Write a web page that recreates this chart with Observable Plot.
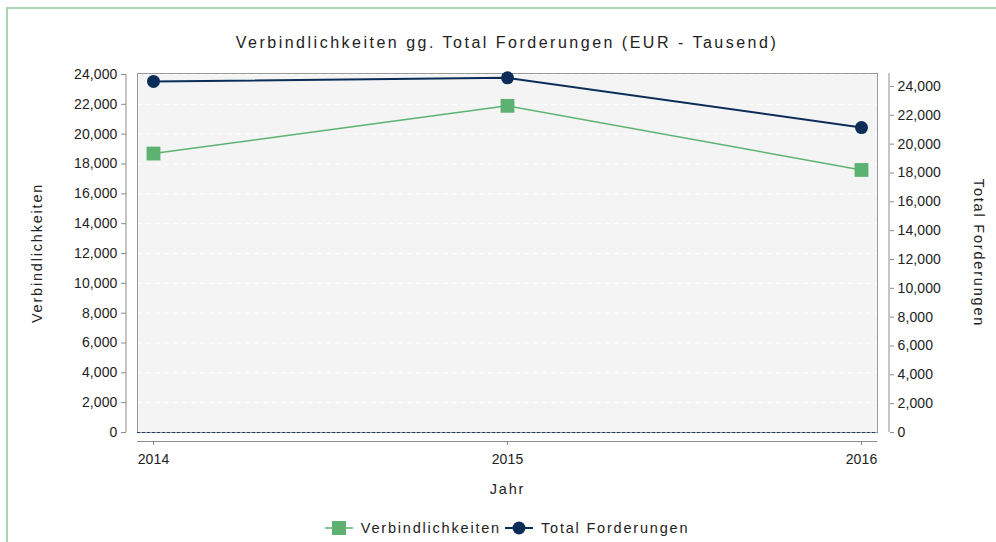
<!DOCTYPE html>
<html>
<head>
<meta charset="utf-8">
<script src="https://cdn.jsdelivr.net/npm/d3@7"></script>
<script src="https://cdn.jsdelivr.net/npm/@observablehq/plot@0.6"></script>
<style>
html, body { margin: 0; padding: 0; background: #fff; }
#page { position: relative; width: 996px; height: 542px; overflow: hidden; font-family: "Liberation Sans", Arial, sans-serif; color: #222; }
#border { position: absolute; left: 6px; top: 7px; width: 1100px; height: 700px; border-left: 2px solid #a9d6b5; border-top: 2px solid #a9d6b5; }
#title { position: absolute; left: 137px; width: 740px; top: 33px; line-height: 20px; text-align: center; font-size: 16px; letter-spacing: 2.5px; color: #222; white-space: nowrap; }
#chart { position: absolute; left: 0; top: 60px; }
#legend { position: absolute; left: 137px; width: 740px; top: 518px; height: 20px; display: flex; justify-content: center; align-items: center; font-size: 14.5px; letter-spacing: 1.8px; color: #222; white-space: nowrap; }
.item { display: flex; align-items: center; margin: 0 2px; }
.item svg { margin-right: 8px; }
.ch text { letter-spacing: 0.1px; }
.ch g[aria-label="text"] text { letter-spacing: 1.8px; }
</style>
</head>
<body>
<div id="page">
  <div id="border"></div>
  <div id="title"></div>
  <div id="chart"></div>
  <div id="legend"></div>
</div>
<script>
// ---- data ----
const years = ["2014", "2015", "2016"];
const verbindlichkeiten = [18700, 21900, 17600];
const totalForderungen = [24350, 24600, 21150];
const leftTicks = [0, 2000, 4000, 6000, 8000, 10000, 12000, 14000, 16000, 18000, 20000, 22000, 24000];
const rightTicks = [0, 2000, 4000, 6000, 8000, 10000, 12000, 14000, 16000, 18000, 20000, 22000, 24000];
const leftMax = 24000;
const rightMax = 24830;
const seriesNames = ["Verbindlichkeiten", "Total Forderungen"];
const seriesColors = ["#5db272", "#0c2d57"];
const titleText = "Verbindlichkeiten gg. Total Forderungen (EUR - Tausend)";
const xLabel = "Jahr";
const yLeftLabel = "Verbindlichkeiten";
const yRightLabel = "Total Forderungen";

// ---- build ----
const rows = years.map((yr, i) => ({year: yr, v: verbindlichkeiten[i], t: totalForderungen[i]}));
const k = leftMax / rightMax; // right axis units -> left axis units
const fmt = d3.format(",");
const axisGray = "#8c8c8c";

function spines(index, scales, values, dims) {
  const {y} = scales;
  const g = d3.create("svg:g").attr("stroke", axisGray).attr("fill", "none");
  const xl = dims.marginLeft - 11;
  const xr = dims.width - dims.marginRight + 12;
  g.append("line").attr("x1", xl).attr("x2", xl).attr("y1", y(0)).attr("y2", y(leftMax));
  g.append("line").attr("x1", xr).attr("x2", xr).attr("y1", y(0)).attr("y2", dims.marginTop);
  return g.node();
}

document.getElementById("title").textContent = titleText;

const chart = Plot.plot({
  width: 996,
  height: 440,
  marginLeft: 137,
  marginRight: 119,
  marginTop: 13,
  marginBottom: 68,
  className: "ch",
  style: {fontFamily: "'Liberation Sans', Arial, sans-serif", fontSize: "14px", color: "#222", background: "transparent", overflow: "visible"},
  x: {type: "point", domain: years, padding: 0.043, axis: null},
  y: {domain: [0, leftMax], range: [372, 14], axis: null},
  marks: [
    Plot.frame({fill: "#f4f4f4", stroke: "none"}),
    Plot.gridY(leftTicks, {stroke: "#ffffff", strokeOpacity: 1, strokeDasharray: "5,4", strokeWidth: 1}),
    Plot.frame({stroke: "#999999", fill: "none"}),
    Plot.ruleY([0], {stroke: "#1f3a68", strokeDasharray: "3,2"}),
    spines,
    Plot.ruleY([0], {dy: 9, stroke: axisGray}),
    Plot.axisY(leftTicks, {anchor: "left", tickSize: 5, tickPadding: 4, dx: -11, tickFormat: fmt, stroke: axisGray, fill: "#222", label: null}),
    Plot.axisY(rightTicks, {anchor: "right", y: d => d * k, tickSize: 4, tickPadding: 4, dx: 12, tickFormat: fmt, stroke: axisGray, fill: "#222", label: null}),
    Plot.axisX({anchor: "bottom", dy: 9, tickSize: 4, tickPadding: 9, stroke: axisGray, fill: "#222", label: null}),
    Plot.line(rows, {x: "year", y: "v", stroke: seriesColors[0], strokeWidth: 1.5}),
    Plot.line(rows, {x: "year", y: d => d.t * k, stroke: seriesColors[1], strokeWidth: 2}),
    Plot.dot(rows, {x: "year", y: "v", symbol: "square", r: 7.8, fill: seriesColors[0], stroke: "none"}),
    Plot.dot(rows, {x: "year", y: d => d.t * k, r: 6.5, fill: seriesColors[1], stroke: "none"}),
    Plot.text([yLeftLabel], {text: d => d, frameAnchor: "left", textAnchor: "middle", dx: -100, rotate: -90, fontSize: 14.5, fill: "#222"}),
    Plot.text([yRightLabel], {text: d => d, frameAnchor: "right", textAnchor: "middle", dx: 101, rotate: 90, fontSize: 14.5, fill: "#222"}),
    Plot.text([xLabel], {text: d => d, frameAnchor: "bottom", dy: 61, fontSize: 14.5, fill: "#222"})
  ]
});
document.getElementById("chart").appendChild(chart);

// ---- legend ----
const legend = document.getElementById("legend");
seriesNames.forEach((name, i) => {
  const item = document.createElement("div");
  item.className = "item";
  const sw = i === 0
    ? `<svg width="28" height="16"><line x1="0" x2="28" y1="8" y2="8" stroke="${seriesColors[i]}" stroke-width="1.5"/><rect x="7" y="1" width="14" height="14" fill="${seriesColors[i]}"/></svg>`
    : `<svg width="28" height="16"><line x1="0" x2="28" y1="8" y2="8" stroke="${seriesColors[i]}" stroke-width="2"/><circle cx="14" cy="8" r="6.5" fill="${seriesColors[i]}"/></svg>`;
  item.innerHTML = sw;
  const span = document.createElement("span");
  span.textContent = name;
  item.appendChild(span);
  legend.appendChild(item);
});
</script>
</body>
</html>
